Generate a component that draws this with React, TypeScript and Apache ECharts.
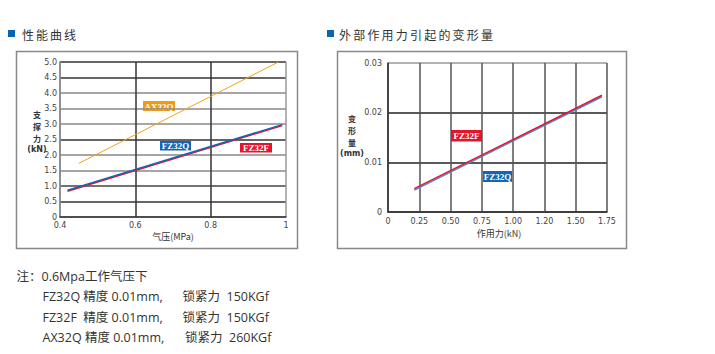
import React, { useEffect, useRef } from "react";
import * as echarts from "echarts";

// ---- data ----
const pressureTicks = ["0.4", "0.6", "0.8", "1"];
const forceTicksLeft = ["0", "0.5", "1.0", "1.5", "2.0", "2.5", "3.0", "3.5", "4.0", "4.5", "5.0"];
const ax32qPressure = [0.45, 0.98];
const ax32qForce = [1.73, 5.0];
const fz32qPressure = [0.42, 0.99];
const fz32qForce = [0.86, 2.98];
const fz32fPressure = [0.42, 0.99];
const fz32fForce = [0.83, 2.95];

const loadTicks = ["0", "0.25", "0.50", "0.75", "1.00", "1.20", "1.50", "1.75"];
const deformTicks = ["0", "0.01", "0.02", "0.03"];
const fz32fLoad = [0.21, 1.71];
const fz32fDeform = [0.0047, 0.0235];
const fz32qLoad = [0.21, 1.71];
const fz32qDeform = [0.0044, 0.0232];

const leftTitle = "性能曲线";
const rightTitle = "外部作用力引起的变形量";
const leftYName = ["支", "撑", "力"];
const leftYUnit = "(kN)";
const rightYName = ["变", "形", "量"];
const rightYUnit = "(mm)";
const notes = [
  ["注：0.6Mpa工作气压下", ""],
  ["FZ32Q 精度 0.01mm,", "锁紧力  150KGf"],
  ["FZ32F  精度 0.01mm,", "锁紧力  150KGf"],
  ["AX32Q 精度 0.01mm,", "锁紧力  260KGf"],
];

const BLUE = "#1466b0";
const RED = "#e5142d";
const ORANGE = "#f5a11e";
const SANS = "'Noto Sans CJK SC', 'Noto Sans', sans-serif";
const NOTE = "'Open Sans', 'Noto Sans CJK SC', sans-serif";
const TICK = "'DejaVu Sans', sans-serif";
const SERIF = "'Liberation Serif', 'DejaVu Serif', serif";

const zip = (a: number[], b: number[]) => a.map((v, i) => [v, b[i]]);

function txt(text: string, x: number, y: number, size: number, extra: any = {}) {
  return {
    type: "text",
    x,
    y,
    style: {
      text,
      fill: "#333",
      fontFamily: SANS,
      fontSize: size,
      verticalAlign: "middle",
      align: "left",
      ...extra,
    },
  };
}

function titleChars(text: string, x0: number, y: number, step: number) {
  return text.split("").map((ch, i) => txt(ch, x0 + i * step, y, 12));
}

function stacked(chars: string[], unit: string, x: number, y0: number, step: number) {
  const items: any[] = chars.map((l, i) => txt(l, x, y0 + i * step, 8, { align: "center", fontWeight: "bold" }));
  items.push(
    txt(unit, x, y0 + (chars.length - 1) * step + 11, 8, { align: "center", fontFamily: TICK, fontWeight: "bold" })
  );
  return items;
}

function tag(text: string, x: number, y: number, w: number, h: number, color: string) {
  return {
    type: "group",
    x,
    y,
    children: [
      { type: "rect", shape: { x: 0, y: 0, width: w, height: h }, style: { fill: color } },
      {
        type: "text",
        x: w / 2,
        y: h / 2 + 0.5,
        style: {
          text,
          fill: "#fff",
          fontFamily: SERIF,
          fontWeight: "bold",
          fontSize: 9,
          align: "center",
          verticalAlign: "middle",
        },
      },
    ],
  };
}

export default function App() {
  const ref = useRef<HTMLDivElement>(null);
  useEffect(() => {
    if (!ref.current) return;
    const chart = echarts.init(ref.current, null, { renderer: "svg" });
    const leftH = ["#888", "#333", "#444", "#888", "#888", "#333", "#888", "#888", "#888", "#333", "#333"];
    const tickLabel = { color: "#444", fontSize: 8, fontFamily: TICK };
    const option: any = {
      animation: false,
      grid: [
        { left: 60, top: 62, width: 226, height: 155 },
        { left: 388, top: 63, width: 219, height: 149 },
      ],
      xAxis: [
        {
          gridIndex: 0,
          type: "value",
          min: 0.4,
          max: 1,
          interval: 0.2,
          axisLine: { lineStyle: { color: "#333", width: 1.5 } },
          axisTick: { show: false },
          axisLabel: { ...tickLabel, margin: 4, formatter: (_v: number, i: number) => pressureTicks[i] ?? "" },
          splitLine: { show: true, lineStyle: { color: ["#888", "#333", "#333", "#999"], width: 1.5 } },
        },
        {
          gridIndex: 1,
          type: "value",
          min: 0,
          max: 1.75,
          interval: 0.25,
          axisLine: { lineStyle: { color: "#333", width: 1.5 } },
          axisTick: { show: false },
          axisLabel: { ...tickLabel, margin: 5, formatter: (_v: number, i: number) => loadTicks[i] ?? "" },
          splitLine: { show: true, lineStyle: { color: "#555", width: 1.5 } },
        },
      ],
      yAxis: [
        {
          gridIndex: 0,
          type: "value",
          min: 0,
          max: 5,
          interval: 0.5,
          axisLine: { lineStyle: { color: "#888", width: 1.5 } },
          axisTick: { show: false },
          axisLabel: { ...tickLabel, margin: 3, formatter: (_v: number, i: number) => forceTicksLeft[i] ?? "" },
          splitLine: { show: true, lineStyle: { color: leftH, width: 1.5 } },
        },
        {
          gridIndex: 1,
          type: "value",
          min: 0,
          max: 0.03,
          interval: 0.01,
          axisLine: { lineStyle: { color: "#333", width: 1.5 } },
          axisTick: { show: false },
          axisLabel: { ...tickLabel, margin: 6, formatter: (_v: number, i: number) => deformTicks[i] ?? "" },
          splitLine: { show: true, lineStyle: { color: ["#333", "#222", "#222", "#999"], width: 1.5 } },
        },
      ],
      series: [
        {
          name: "AX32Q",
          type: "line",
          xAxisIndex: 0,
          yAxisIndex: 0,
          data: zip(ax32qPressure, ax32qForce),
          showSymbol: false,
          lineStyle: { color: ORANGE, width: 1 },
        },
        {
          name: "FZ32F",
          type: "line",
          xAxisIndex: 0,
          yAxisIndex: 0,
          data: zip(fz32fPressure, fz32fForce),
          showSymbol: false,
          lineStyle: { color: RED, width: 1.5 },
        },
        {
          name: "FZ32Q",
          type: "line",
          xAxisIndex: 0,
          yAxisIndex: 0,
          data: zip(fz32qPressure, fz32qForce),
          showSymbol: false,
          lineStyle: { color: BLUE, width: 1.5 },
        },
        {
          name: "FZ32Q-r",
          type: "line",
          xAxisIndex: 1,
          yAxisIndex: 1,
          data: zip(fz32qLoad, fz32qDeform),
          showSymbol: false,
          lineStyle: { color: "#3a8fd6", width: 1.5 },
        },
        {
          name: "FZ32F-r",
          type: "line",
          xAxisIndex: 1,
          yAxisIndex: 1,
          data: zip(fz32fLoad, fz32fDeform),
          showSymbol: false,
          lineStyle: { color: RED, width: 1.5 },
        },
      ],
      graphic: [
        // frames
        { type: "rect", shape: { x: 16.5, y: 51.5, width: 281, height: 197 }, style: { fill: "none", stroke: "#888", lineWidth: 1.5 } },
        { type: "rect", shape: { x: 337.5, y: 51.5, width: 289, height: 197 }, style: { fill: "none", stroke: "#888", lineWidth: 1.5 } },
        // title squares
        { type: "rect", shape: { x: 8, y: 30, width: 7, height: 7 }, style: { fill: "#0a64b4" } },
        { type: "rect", shape: { x: 327, y: 30, width: 7, height: 7 }, style: { fill: "#0a64b4" } },
        ...titleChars(leftTitle, 22, 34, 14),
        ...titleChars(rightTitle, 339, 34, 14.2),
        // axis names
        ...stacked(leftYName, leftYUnit, 37, 114.5, 11.8),
        txt("气压(MPa)", 173, 236, 9, { align: "center" }),
        ...stacked(rightYName, rightYUnit, 352, 118.5, 11.8),
        txt("作用力(kN)", 499, 233, 9, { align: "center" }),
        // tags
        tag("AX32Q", 143, 101, 32, 10, "#f29a14"),
        tag("FZ32Q", 160, 141, 31, 9.5, BLUE),
        tag("FZ32F", 240, 143, 32, 9.5, RED),
        tag("FZ32F", 451, 130, 31, 11.5, RED),
        tag("FZ32Q", 483, 171, 29, 11, BLUE),
        // notes
        ...notes.flatMap((n, i) => {
          const y = 276 + i * 20.5;
          const items: any[] = [txt(n[0], i === 0 ? 16.5 : 42.5, y, 12.5, { fontFamily: NOTE })];
          if (n[1]) items.push(txt(n[1], i === 3 ? 185 : 182.5, y, 12.5, { fontFamily: NOTE }));
          return items;
        }),
      ],
    };
    chart.setOption(option);
    return () => chart.dispose();
  }, []);
  return (
    <div
      ref={ref}
      style={{ position: "fixed", left: 0, top: 0, width: 715, height: 354, background: "#fff" }}
    />
  );
}
